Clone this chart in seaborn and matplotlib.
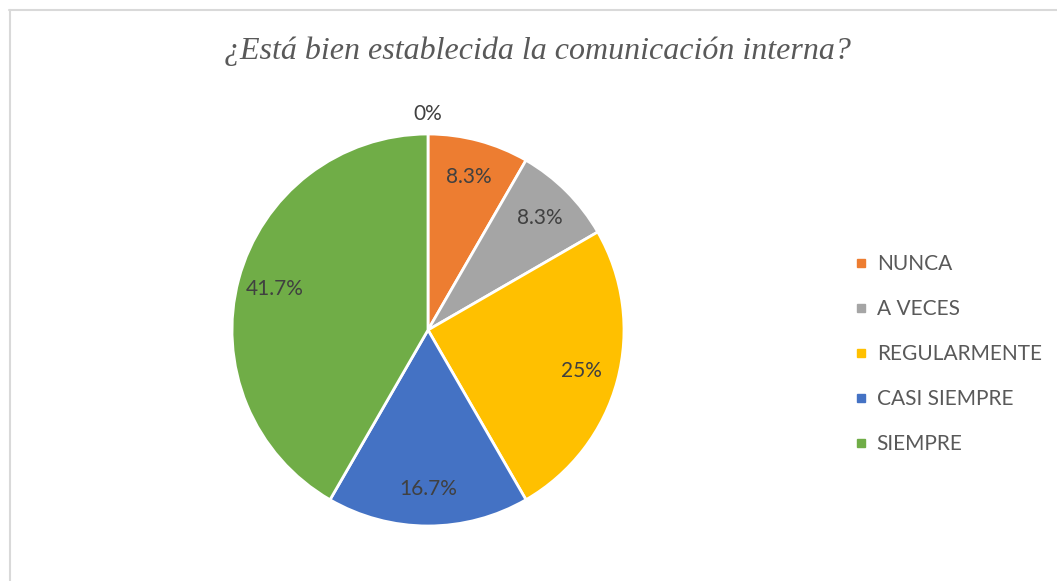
import matplotlib.pyplot as plt
import seaborn as sns
from matplotlib.lines import Line2D

categories = ["NUNCA", "A VECES", "REGULARMENTE", "CASI SIEMPRE", "SIEMPRE"]
counts = [1, 1, 3, 2, 5]
colors = ["#ED7D31", "#A5A5A5", "#FFC000", "#4472C4", "#70AD47"]
title = "¿Está bien establecida la comunicación interna?"
zero_label = "0%"

sns.set_theme(style="white")
plt.rcParams['font.family'] = ['Lato', 'DejaVu Sans']

W, H = 1057, 581
fig = plt.figure(figsize=(W / 100, H / 100), dpi=100)

# pie centre / radius in pixels
cx, cy, r = 428, 330, 196
lim = 1.25
half = lim * r
ax = fig.add_axes([(cx - half) / W, (H - cy - half) / H, 2 * half / W, 2 * half / H])


def fmt(p):
    s = f"{p:.1f}"
    if s.endswith(".0"):
        s = s[:-2]
    return s + "%"


wedges, _, autotexts = ax.pie(
    counts, colors=colors, startangle=90, counterclock=False,
    autopct=fmt, pctdistance=0.81,
    wedgeprops=dict(edgecolor="white", linewidth=2),
    textprops=dict(color="#404040", fontsize=15),
)
ax.text(0, 1.10, zero_label, ha="center", va="center", color="#404040", fontsize=15)
ax.set_xlim(-lim, lim)
ax.set_ylim(-lim, lim)
ax.set_aspect("equal")
ax.axis("off")

fig.text(537 / W, 1 - 51 / H, title, ha="center", va="center",
         family=["Liberation Serif"], style="italic", fontsize=23, color="#595959")

handles = [Line2D([], [], marker="s", linestyle="none", markersize=6,
                  markerfacecolor=c, markeredgecolor=c) for c in colors]
fig.legend(handles, categories, loc="center left",
           bbox_to_anchor=(835 / W, 1 - 354 / H), frameon=False,
           fontsize=15, labelcolor="#595959", handlelength=0.7,
           handletextpad=0.4, labelspacing=1.2)

# chart-area frame (only left/top visible)
fig.add_artist(Line2D([9.5 / W, 9.5 / W], [0, 1 - 10 / H], transform=fig.transFigure,
                      color="#D9D9D9", lw=1.5))
fig.add_artist(Line2D([9 / W, 1], [1 - 10 / H, 1 - 10 / H], transform=fig.transFigure,
                      color="#D9D9D9", lw=1.5))

fig.savefig("out.png", dpi=100, facecolor="white")
